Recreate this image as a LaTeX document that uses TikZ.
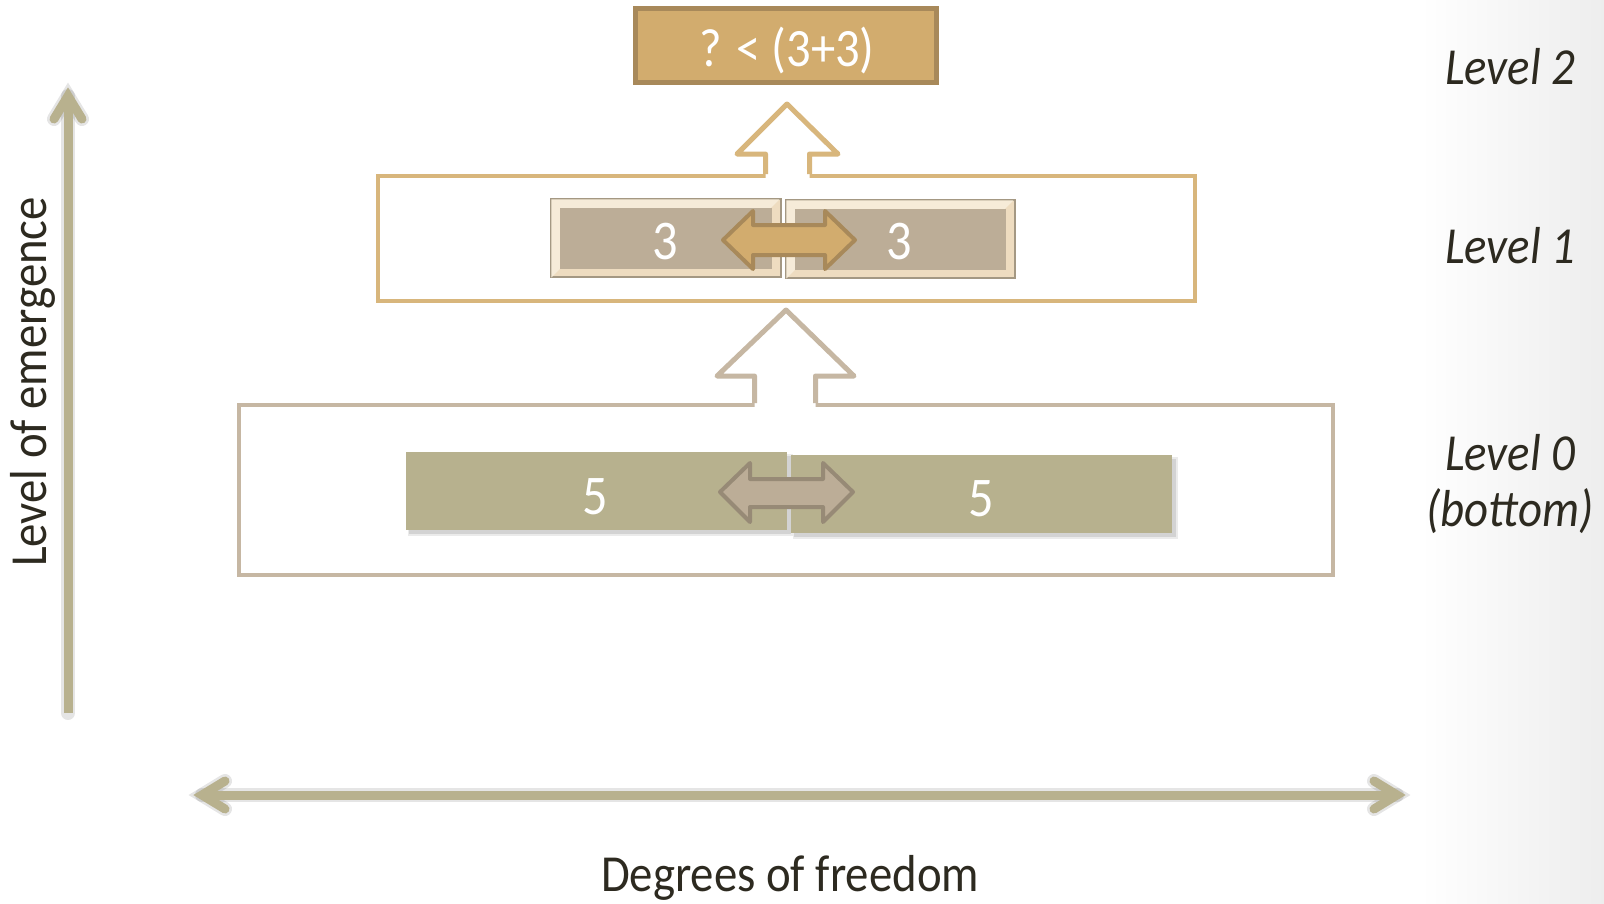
\documentclass[tikz,border=0pt]{standalone}
\usepackage{fontspec}
\setmainfont{Carlito}
\usepackage{graphicx}
\newcommand\nrw[1]{\scalebox{0.9}[1]{#1}}
\definecolor{axiscol}{HTML}{B8B18E}
\definecolor{gold}{HTML}{D2AC6E}
\definecolor{goldd}{HTML}{A8895A}
\definecolor{goldl}{HTML}{D8B67C}
\definecolor{taupe}{HTML}{BCAD97}
\definecolor{taupel}{HTML}{C6B7A3}
\definecolor{taupeD}{HTML}{978A76}
\definecolor{olive}{HTML}{B7B18E}
\definecolor{bevel}{HTML}{EEDCC0}
\definecolor{bevelhi}{HTML}{F6EBD8}
\definecolor{bevelbd}{HTML}{A49883}
\definecolor{txt}{HTML}{2D2A20}
\begin{document}
\begin{tikzpicture}[x=1pt,y=-1pt,
  lvltext/.style={text=txt,font=\fontsize{52}{56}\selectfont\itshape,inner sep=0pt,align=center},
  numtext/.style={text=white,font=\fontsize{56}{60}\selectfont,inner sep=0pt},
  axtext/.style={text=txt,font=\fontsize{52}{56}\selectfont,inner sep=0pt},
  axisline/.style={draw=axiscol,line width=9pt},
  chev/.style={draw=axiscol,line width=9pt,line cap=round,line join=miter},
  shad/.style={draw=black,opacity=0.10,line width=14pt,line cap=round},
  outlinebox/.style={draw,line width=4pt,fill=none},
]
\useasboundingbox (0,0) rectangle (1604,903);
\fill[white] (0,0) rectangle (1604,903);
\shade[left color=white,right color=black!7] (1420,0) rectangle (1604,903);

% ---------- axes ----------
\coordinate (vb) at (68,713);
\coordinate (vt) at (68,96);
\coordinate (vl) at (54,119);
\coordinate (vr) at (82,119);
\coordinate (hl) at (202,795);
\coordinate (hr) at (1397,795);
\coordinate (hla) at (225,781);
\coordinate (hlb) at (225,809);
\coordinate (hra) at (1374,781);
\coordinate (hrb) at (1374,809);
% shadows
\begin{scope}[shift={(4,4)}]
  \draw[shad] (vb) -- (vt);
  \draw[shad] (vl) -- (vt) -- (vr);
  \draw[shad] (hl) -- (hr);
  \draw[shad] (hla) -- (hl) -- (hlb);
  \draw[shad] (hra) -- (hr) -- (hrb);
\end{scope}
\draw[axisline] (vb) -- (vt);
\draw[chev] (vl) -- (vt) -- (vr);
\draw[axisline] (hl) -- (hr);
\draw[chev] (hla) -- (hl) -- (hlb);
\draw[chev] (hra) -- (hr) -- (hrb);

\node[axtext,rotate=90,anchor=base] (yl) at (46,382) {\nrw{Level of emergence}};
\node[axtext,anchor=base] (xl) at (790,891) {\nrw{Degrees of freedom}};

% ---------- level 0 ----------
\node[outlinebox,draw=taupel,minimum width=1094,minimum height=170,inner sep=0] (box0) at (786,490) {};
% bars shadows
\fill[black,opacity=0.10] (409,456) rectangle (791,534);
\fill[black,opacity=0.10] (794,459) rectangle (1176,537);
\fill[black,opacity=0.08] (408,454) rectangle (793,536);
\fill[black,opacity=0.08] (793,457) rectangle (1178,539);
\node[fill=olive,minimum width=381,minimum height=78,inner sep=0] (bar0l) at (596.5,491) {};
\node[fill=olive,minimum width=381,minimum height=78,inner sep=0] (bar0r) at (981.5,494) {};
\node[numtext] (five1) at (595,497) {\nrw{5}};
\node[numtext] (five2) at (981,499) {\nrw{5}};
\draw[fill=taupe,draw=taupeD,line width=4pt,line join=round]
  (720,492) -- (750,463) -- (750,479) -- (823,479) -- (823,463) -- (853,492)
  -- (823,522) -- (823,507) -- (750,507) -- (750,522) -- cycle;

% ---------- arrow level 0 -> 1 ----------
\fill[white] (754.5,408) -- (754.5,376) -- (717,376) -- (786,310) -- (854,376) -- (815.5,376) -- (815.5,408) -- cycle;
\draw[draw=taupel,line width=5pt,line join=round]
  (754.5,403) -- (754.5,376) -- (717,376) -- (786,310) -- (854,376) -- (815.5,376) -- (815.5,403);

% ---------- level 1 ----------
\node[outlinebox,draw=goldl,minimum width=817,minimum height=125,inner sep=0] (box1) at (786.5,238.5) {};
% bevel boxes
\node[fill=bevel,draw=bevelbd,line width=1.2pt,minimum width=230,minimum height=78,inner sep=0] (b1l) at (666,238) {};
\fill[bevelhi] (b1l.north west) ++(1,1) -- ++(228,0) -- ++(-9,9) -- ++(-210,0) -- ++(0,60) -- ++(-9,9) -- cycle;
\node[fill=taupe,minimum width=212,minimum height=61,inner sep=0] (b1li) at (666,238.5) {};
\node[fill=bevel,draw=bevelbd,line width=1.2pt,minimum width=229,minimum height=78,inner sep=0] (b1r) at (900.5,239) {};
\fill[bevelhi] (b1r.north west) ++(1,1) -- ++(227,0) -- ++(-9,9) -- ++(-209,0) -- ++(0,60) -- ++(-9,9) -- cycle;
\node[fill=taupe,minimum width=211,minimum height=61,inner sep=0] (b1ri) at (900.5,239.5) {};
\node[numtext] (three1) at (665,242) {\nrw{3}};
\node[numtext] (three2) at (899,242) {\nrw{3}};
\draw[fill=gold,draw=goldd,line width=4pt,line join=round]
  (723,240) -- (753,211) -- (753,225) -- (825,225) -- (825,211) -- (855,240)
  -- (825,269) -- (825,255) -- (753,255) -- (753,269) -- cycle;

% ---------- arrow level 1 -> 2 ----------
\fill[white] (765.5,179) -- (765.5,154) -- (737,154) -- (787,104) -- (838,154) -- (809.5,154) -- (809.5,179) -- cycle;
\draw[draw=goldl,line width=5pt,line join=round]
  (765.5,174) -- (765.5,154) -- (737,154) -- (787,104) -- (838,154) -- (809.5,154) -- (809.5,174);

% ---------- level 2 ----------
\node[fill=gold,draw=goldd,line width=5pt,minimum width=301,minimum height=74,inner sep=0] (top) at (786,45.5) {};
\node[text=white,font=\fontsize{54}{58}\selectfont,inner sep=0,anchor=base] (toptext) at (787,66) {\nrw{? < (3+3)}};

% ---------- level labels ----------
\node[lvltext] (lab2) at (1510,67) {\nrw{Level 2}};
\node[lvltext] (lab1) at (1510,246) {\nrw{Level 1}};
\node[lvltext] (lab0) at (1510,484) {\nrw{Level 0}\\\nrw{(bottom)}};
\end{tikzpicture}
\end{document}
